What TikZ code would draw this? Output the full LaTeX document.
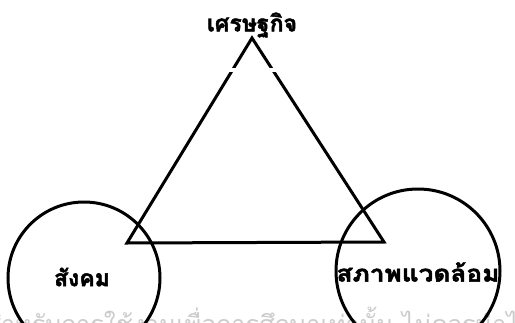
\documentclass[tikz,border=0pt]{standalone}
\usepackage{fontspec}
\newfontfamily\thaifont[Script=Thai]{Loma}
\newfontfamily\thaibold[Script=Thai,FakeBold=2]{Loma Bold}
\tikzset{
  ring/.style={circle, draw=black, line width=3pt, inner sep=0pt},
  lbl/.style={font=\thaibold\fontsize{23}{26}\selectfont, inner sep=0pt},
  edge/.style={line width=3pt, line join=miter},
}
\begin{document}
\begin{tikzpicture}[x=1pt,y=-1pt]
\useasboundingbox (0,0) rectangle (515,322);
\clip (0,0) rectangle (515,322);
\fill[white] (0,0) rectangle (515,322);
% watermark
\node[font=\thaifont\fontsize{25}{28}\selectfont, text=black!20, anchor=base west, inner sep=0pt] (wm) at (-14,333) {สำหรับการใช้งานเพื่อการศึกษาเท่านั้น ไม่ควรนำไปเผยแพร่};
% circles
\node[ring, minimum size=152pt] (soc) at (84,278) {};
\node[ring, minimum size=164pt] (env) at (418,271) {};
% triangle
\coordinate (top) at (252,38);
\coordinate (bl) at (127,243);
\coordinate (br) at (384,242);
\draw[edge] (top) -- (bl) -- (br) -- cycle;
\fill[white] (222,68) rectangle (282,72);
% labels
\node[lbl] (eco) at (252,25) {เศรษฐกิจ};
\node[lbl] (soclbl) at (82,277) {สังคม};
\node[lbl, xscale=1.14] (envlbl) at (418,272) {สภาพแวดล้อม};
\end{tikzpicture}
\end{document}
